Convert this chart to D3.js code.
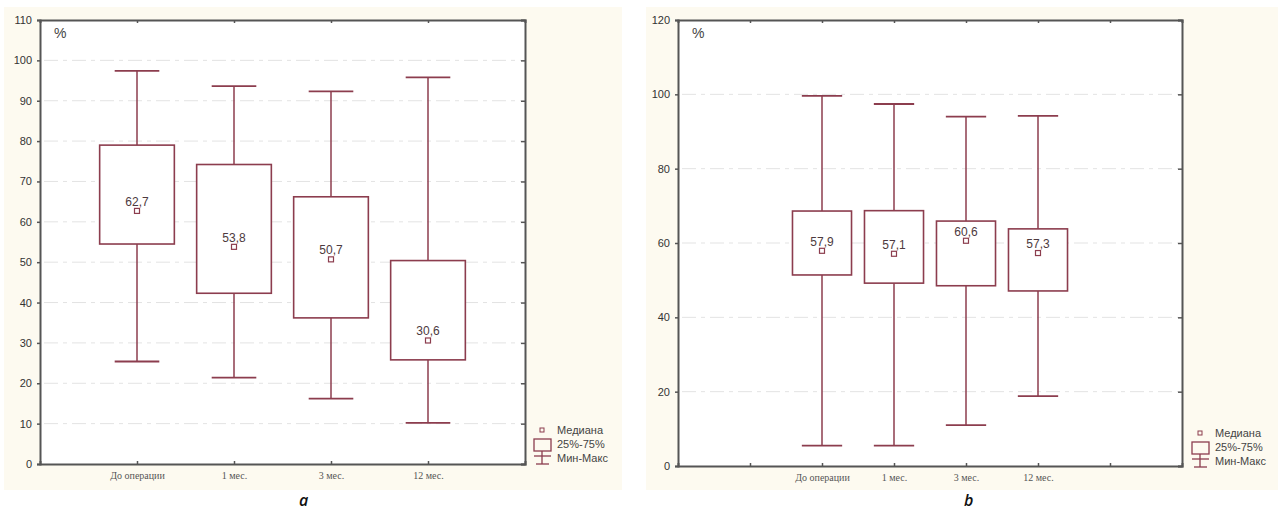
<!DOCTYPE html>
<html lang="ru">
<head>
  <meta charset="UTF-8">
  <title>Boxplots</title>
  <script src="https://cdn.jsdelivr.net/npm/d3@7"></script>
  <style>
    body { margin: 0; background: #fff; }
    .ytick text { font-family: "Liberation Sans", Arial, sans-serif; font-size: 11px; fill: #333; }
    .xtick text { font-family: "Liberation Serif", "Times New Roman", serif; font-size: 10px; fill: #555; }
    .legend text { font-family: "Liberation Sans", Arial, sans-serif; font-size: 11px; fill: #444; }
  </style>
</head>
<body>
  <svg width="1278" height="512"></svg>
  <script>
    var categories = ["До операции", "1 мес.", "3 мес.", "12 мес."];

    // panel a
    var minA = [25.4, 21.4, 16.2, 10.2];
    var q1A = [54.5, 42.3, 36.2, 25.8];
    var medA = [62.7, 53.8, 50.7, 30.6];
    var q3A = [79.0, 74.2, 66.2, 50.4];
    var maxA = [97.4, 93.6, 92.3, 95.8];
    var yTicksA = [0, 10, 20, 30, 40, 50, 60, 70, 80, 90, 100, 110];

    // panel b
    var minB = [5.5, 5.5, 11.0, 18.8];
    var q1B = [51.4, 49.2, 48.5, 47.1];
    var medB = [57.9, 57.1, 60.6, 57.3];
    var q3B = [68.6, 68.7, 65.9, 63.8];
    var maxB = [99.6, 97.4, 94.0, 94.2];
    var yTicksB = [0, 20, 40, 60, 80, 100, 120];

    var legendLabels = ["Медиана", "25%-75%", "Мин-Макс"];

    var boxColor = "#8c3d4e";
    var svg = d3.select("svg");
    var fmt = function (v) { return d3.format(".1f")(v).replace(".", ","); };

    function panel(o) {
      var g = svg.append("g");

      g.append("rect")
        .attr("x", o.bg[0]).attr("y", o.bg[1]).attr("width", o.bg[2]).attr("height", o.bg[3])
        .attr("fill", "#fdfaf0");
      g.append("rect")
        .attr("x", o.left).attr("y", o.top).attr("width", o.right - o.left).attr("height", o.bottom - o.top)
        .attr("fill", "#fff");

      var x = d3.scaleLinear().domain([0, o.slots]).range([o.left, o.right]);
      var y = d3.scaleLinear().domain([0, o.yMax]).range([o.bottom, o.top]);
      var step = x(1) - x(0);

      // grid
      g.selectAll(".grid").data(o.yTicks.filter(function (d) { return d > 0 && d < o.yMax; }))
        .enter().append("line")
        .attr("x1", o.left + 4).attr("x2", o.right - 4)
        .attr("y1", function (d) { return y(d); }).attr("y2", function (d) { return y(d); })
        .attr("stroke", "#e3e3e3").attr("stroke-dasharray", "14,5,4,5");

      var pos = categories.map(function (c, i) { return i + o.first; });
      var bw = step * o.boxFrac, cw = step * o.capFrac;

      var boxes = g.selectAll(".box").data(categories).enter().append("g");
      boxes.append("line")
        .attr("x1", function (d, i) { return x(pos[i]); }).attr("x2", function (d, i) { return x(pos[i]); })
        .attr("y1", function (d, i) { return y(o.max[i]); }).attr("y2", function (d, i) { return y(o.q3[i]); })
        .attr("stroke", boxColor).attr("stroke-width", 1.5);
      boxes.append("line")
        .attr("x1", function (d, i) { return x(pos[i]); }).attr("x2", function (d, i) { return x(pos[i]); })
        .attr("y1", function (d, i) { return y(o.q1[i]); }).attr("y2", function (d, i) { return y(o.min[i]); })
        .attr("stroke", boxColor).attr("stroke-width", 1.5);
      boxes.append("line")
        .attr("x1", function (d, i) { return x(pos[i]) - cw / 2; }).attr("x2", function (d, i) { return x(pos[i]) + cw / 2; })
        .attr("y1", function (d, i) { return y(o.max[i]); }).attr("y2", function (d, i) { return y(o.max[i]); })
        .attr("stroke", boxColor).attr("stroke-width", 1.8);
      boxes.append("line")
        .attr("x1", function (d, i) { return x(pos[i]) - cw / 2; }).attr("x2", function (d, i) { return x(pos[i]) + cw / 2; })
        .attr("y1", function (d, i) { return y(o.min[i]); }).attr("y2", function (d, i) { return y(o.min[i]); })
        .attr("stroke", boxColor).attr("stroke-width", 1.8);
      boxes.append("rect")
        .attr("x", function (d, i) { return x(pos[i]) - bw / 2; })
        .attr("y", function (d, i) { return y(o.q3[i]); })
        .attr("width", bw)
        .attr("height", function (d, i) { return y(o.q1[i]) - y(o.q3[i]); })
        .attr("fill", "#fff").attr("stroke", boxColor).attr("stroke-width", 1.6);
      boxes.append("rect")
        .attr("x", function (d, i) { return x(pos[i]) - 2.5; })
        .attr("y", function (d, i) { return y(o.med[i]) - 2.5; })
        .attr("width", 5).attr("height", 5)
        .attr("fill", "none").attr("stroke", boxColor).attr("stroke-width", 1.2);
      boxes.append("text")
        .attr("x", function (d, i) { return x(pos[i]); })
        .attr("y", function (d, i) { return y(o.med[i]) - 5; })
        .attr("text-anchor", "middle")
        .attr("font-family", "Liberation Sans, Arial, sans-serif")
        .attr("font-size", 12).attr("fill", "#4d3a40")
        .text(function (d, i) { return fmt(o.med[i]); });

      // axes
      var ticksX = d3.range(1, o.slots);
      g.append("g").attr("class", "xtick")
        .attr("transform", "translate(0," + o.bottom + ")")
        .call(d3.axisBottom(x).tickValues(ticksX).tickSize(-3).tickPadding(8)
          .tickFormat(function (d) { var k = d - o.first; return categories[k] || ""; }));
      g.append("g")
        .attr("transform", "translate(0," + o.top + ")")
        .call(d3.axisTop(x).tickValues(ticksX).tickSize(-3).tickFormat(""));
      g.append("g").attr("class", "ytick")
        .attr("transform", "translate(" + o.left + ",0)")
        .call(d3.axisLeft(y).tickValues(o.yTicks).tickSize(3).tickPadding(5));
      g.append("g")
        .attr("transform", "translate(" + o.right + ",0)")
        .call(d3.axisRight(y).tickValues(o.yTicks).tickSize(-4).tickFormat(""));
      g.selectAll(".domain").attr("stroke", "#555").attr("stroke-width", 2);
      g.selectAll(".tick line").attr("stroke", "#555").attr("stroke-width", 1.5);

      g.append("text")
        .attr("x", o.left + 14).attr("y", o.top + 18)
        .attr("font-family", "Liberation Sans, Arial, sans-serif")
        .attr("font-size", 14).attr("fill", "#444").text("%");

      // legend
      var lg = g.append("g").attr("class", "legend")
        .attr("transform", "translate(" + o.legend[0] + "," + o.legend[1] + ")");
      lg.append("rect").attr("x", -2).attr("y", -2).attr("width", 4).attr("height", 4)
        .attr("fill", "none").attr("stroke", boxColor).attr("stroke-width", 1);
      lg.append("rect").attr("x", -8).attr("y", 9).attr("width", 17).attr("height", 12)
        .attr("fill", "none").attr("stroke", boxColor).attr("stroke-width", 1.3);
      lg.append("line").attr("x1", 0).attr("x2", 0).attr("y1", 21).attr("y2", 34)
        .attr("stroke", boxColor).attr("stroke-width", 1.3);
      lg.append("line").attr("x1", -8).attr("x2", 9).attr("y1", 26).attr("y2", 26)
        .attr("stroke", boxColor).attr("stroke-width", 1.3);
      lg.append("line").attr("x1", -6).attr("x2", 7).attr("y1", 34).attr("y2", 34)
        .attr("stroke", boxColor).attr("stroke-width", 1.3);
      lg.selectAll("text").data(legendLabels).enter().append("text")
        .attr("x", 15).attr("y", function (d, i) { return 4 + i * 14; })
        .text(function (d) { return d; });

      svg.append("text")
        .attr("x", o.tag[0]).attr("y", o.tag[1])
        .attr("font-family", "Open Sans, DejaVu Sans, sans-serif")
        .attr("font-style", "italic").attr("font-weight", "600")
        .attr("font-size", 16).attr("fill", "#111").text(o.tagText);
    }

    panel({
      bg: [4, 7, 618, 483], left: 40, right: 525, top: 20, bottom: 464,
      slots: 5, first: 1, yMax: 110, yTicks: yTicksA, boxFrac: 0.77, capFrac: 0.46,
      min: minA, q1: q1A, med: medA, q3: q3A, max: maxA,
      legend: [542, 430], tag: [299, 506], tagText: "a"
    });
    panel({
      bg: [646, 7, 632, 483], left: 678, right: 1182, top: 20, bottom: 466,
      slots: 7, first: 2, yMax: 120, yTicks: yTicksB, boxFrac: 0.82, capFrac: 0.56,
      min: minB, q1: q1B, med: medB, q3: q3B, max: maxB,
      legend: [1200, 433], tag: [964, 506], tagText: "b"
    });
  </script>
</body>
</html>
